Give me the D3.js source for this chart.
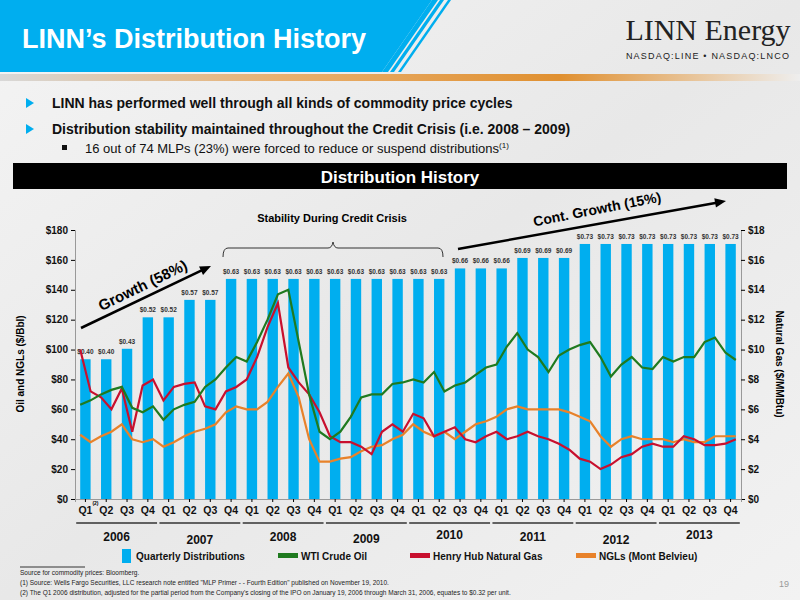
<!DOCTYPE html>
<html><head><meta charset="utf-8">
<script src="https://cdnjs.cloudflare.com/ajax/libs/d3/7.8.5/d3.min.js"></script>
<style>body{margin:0}svg{font-family:"Liberation Sans",Arial,sans-serif}</style>
</head><body>
<svg id="c" width="800" height="600"></svg>
<script>
var years = ["2006","2007","2008","2009","2010","2011","2012","2013"];
var quarters = ["Q1","Q2","Q3","Q4"];
var distributions = [0.40,0.40,0.43,0.52, 0.52,0.57,0.57,0.63, 0.63,0.63,0.63,0.63, 0.63,0.63,0.63,0.63,
  0.63,0.63,0.66,0.66, 0.66,0.69,0.69,0.69, 0.73,0.73,0.73,0.73, 0.73,0.73,0.73,0.73];
// two readings per quarter, $/Bbl
var wti = [63,66, 70,73, 75,61, 58,62, 53,60, 63,65, 75,80, 88,95, 92,105, 120,137, 140,105, 70,45,
  40,45, 55,68, 70,70, 77,78, 80,78, 85,72, 76,78, 83,88, 90,102, 111,100, 95,85, 96,100,
  103,105, 95,82, 90,95, 88,87, 95,92, 95,95, 105,108, 98,93];
// $/MMBtu x10 so it sits on the left axis
var henryHub = [100,72, 68,60, 74,45, 76,80, 66,75, 77,78, 62,60, 72,75, 80,95, 115,131, 88,78, 70,58,
  42,38, 38,35, 30,45, 50,45, 57,54, 42,45, 48,40, 38,42, 45,40, 42,45, 42,40, 37,33,
  27,25, 20,23, 28,30, 35,37, 35,35, 42,40, 36,36, 37,40];
var ngl = [43,38, 42,45, 50,40, 38,40, 35,38, 42,45, 47,50, 58,62, 60,60, 65,75, 84,68, 40,25,
  25,27, 28,32, 35,36, 40,43, 50,45, 42,45, 40,45, 50,52, 55,60, 62,60, 60,60, 60,58,
  55,52, 42,35, 40,42, 40,40, 40,38, 40,38, 38,42, 42,42];

var svg = d3.select("#c");
var defs = svg.append("defs");
var bg = defs.append("linearGradient").attr("id","bg").attr("x1",0).attr("y1",0).attr("x2",1).attr("y2",1);
bg.append("stop").attr("offset","0").attr("stop-color","#f4f4f4");
bg.append("stop").attr("offset","0.5").attr("stop-color","#e8e8e8");
bg.append("stop").attr("offset","1").attr("stop-color","#f2f2f2");
var og = defs.append("linearGradient").attr("id","og");
og.append("stop").attr("offset","0").attr("stop-color","#d8d8d8");
og.append("stop").attr("offset","0.35").attr("stop-color","#e8b070");
og.append("stop").attr("offset","0.7").attr("stop-color","#e09030");
og.append("stop").attr("offset","1").attr("stop-color","#eeeeee");
svg.append("rect").attr("width",800).attr("height",600).attr("fill","url(#bg)");

// header
svg.append("path").attr("d","M0,0H432L382,72H0Z").attr("fill","#00aeef");
[[432,438],[440,444],[448,451]].forEach(function(s){
  svg.append("path").attr("d","M"+s[0]+",0H"+s[1]+"L"+(s[1]-50)+",72H"+(s[0]-50)+"Z").attr("fill","#00aeef");
});
svg.append("rect").attr("x",0).attr("y",74).attr("width",800).attr("height",7).attr("fill","url(#og)");
svg.append("text").attr("x",22).attr("y",48).attr("fill","#fff").attr("font-size",27).attr("font-weight","bold").text("LINN’s Distribution History");
svg.append("text").attr("x",708).attr("y",40).attr("text-anchor","middle").attr("font-family","Liberation Serif,serif").attr("font-size",30).attr("fill","#222").text("LINN Energy");
svg.append("text").attr("x",708).attr("y",59).attr("text-anchor","middle").attr("font-size",9).attr("letter-spacing",1.2).attr("fill","#222").text("NASDAQ:LINE • NASDAQ:LNCO");

var bullets = [[108,"LINN has performed well through all kinds of commodity price cycles"],
  [134,"Distribution stability maintained throughout the Credit Crisis (i.e. 2008 – 2009)"]];
bullets.forEach(function(b){
  svg.append("path").attr("d","M26,"+(b[0]-10)+"l8,5l-8,5z").attr("fill","#00aeef");
  svg.append("text").attr("x",52).attr("y",b[0]).attr("font-size",14).attr("font-weight","bold").attr("fill","#111").text(b[1]);
});
svg.append("rect").attr("x",62).attr("y",145).attr("width",5).attr("height",5).attr("fill","#111");
var t3 = svg.append("text").attr("x",85).attr("y",153).attr("font-size",13).attr("fill","#111").text("16 out of 74 MLPs (23%) were forced to reduce or suspend distributions");
t3.append("tspan").attr("dy",-5).attr("font-size",8).text("(1)");
svg.append("rect").attr("x",13).attr("y",163).attr("width",774).attr("height",26).attr("fill","#000");
svg.append("text").attr("x",400).attr("y",183).attr("text-anchor","middle").attr("fill","#fff").attr("font-size",17).attr("font-weight","bold").text("Distribution History");

// chart
var x0 = 75, x1 = 741, yTop = 230, yBot = 499;
var keys = [];
years.forEach(function(y){ quarters.forEach(function(q){ keys.push(y+q); }); });
var x = d3.scaleBand().domain(keys).range([x0,x1]).paddingInner(0.5).paddingOuter(0.25);
var xt = d3.scaleLinear().domain([0,32]).range([x0,x1]);
var y = d3.scaleLinear().domain([0,180]).range([yBot,yTop]);
var yR = d3.scaleLinear().domain([0,18]).range([yBot,yTop]);
var yD = d3.scaleLinear().domain([0,0.77]).range([yBot,yTop]);

svg.append("g").selectAll("rect").data(distributions).join("rect")
  .attr("x",function(d,i){return x(keys[i]);}).attr("width",x.bandwidth())
  .attr("y",function(d){return yD(d);}).attr("height",function(d){return yBot-yD(d);})
  .attr("fill","#00aeef");
svg.append("g").selectAll("text").data(distributions).join("text")
  .attr("x",function(d,i){return x(keys[i])+x.bandwidth()/2;}).attr("y",function(d){return yD(d)-5;})
  .attr("text-anchor","middle").attr("font-size",6.5).attr("font-weight","bold").attr("fill","#333")
  .text(function(d){return "$"+d.toFixed(2);});

var line = d3.line().x(function(d,i){return xt(i*0.5+0.25);}).y(function(d){return y(d);}).curve(d3.curveLinear);
[[ngl,"#e8822a"],[henryHub,"#c8102e"],[wti,"#1f7a1f"]].forEach(function(s){
  svg.append("path").datum(s[0]).attr("d",line).attr("fill","none").attr("stroke",s[1]).attr("stroke-width",2.2);
});

var gl = svg.append("g").attr("transform","translate("+x0+",0)").call(d3.axisLeft(y).ticks(9).tickSize(4).tickFormat(function(d){return "$"+d;}));
gl.select(".domain").attr("stroke","#999");
gl.selectAll("text").attr("font-size",10).attr("font-weight","bold").attr("fill","#111");
var gr = svg.append("g").attr("transform","translate("+x1+",0)").call(d3.axisRight(yR).ticks(9).tickSize(4).tickFormat(function(d){return "$"+d;}));
gr.select(".domain").attr("stroke","#999");
gr.selectAll("text").attr("font-size",10).attr("font-weight","bold").attr("fill","#111");
var gb = svg.append("g").attr("transform","translate(0,"+yBot+")").call(d3.axisBottom(x).tickSize(3).tickFormat(function(d){return d.slice(4);}));
gb.select(".domain").attr("stroke","#999");
gb.selectAll("text").attr("font-size",10.5).attr("font-weight","bold").attr("fill","#111").attr("dy","0.9em");
svg.append("text").attr("x",x(keys[0])+x.bandwidth()/2+7).attr("y",505).attr("font-size",5).attr("font-weight","bold").text("(2)");

svg.append("text").attr("transform","translate(24,364) rotate(-90)").attr("text-anchor","middle").attr("font-size",10).attr("font-weight","bold").text("Oil and NGLs ($/Bbl)");
svg.append("text").attr("transform","translate(776,364) rotate(90)").attr("text-anchor","middle").attr("font-size",10).attr("font-weight","bold").text("Natural Gas ($/MMBtu)");

var yOff = [0,3,0,2,-2,0,3,-2];
years.forEach(function(yr,i){
  var a = x(yr+"Q1")-6, b = x(yr+"Q4")+x.bandwidth()+6;
  svg.append("line").attr("x1",a+2).attr("x2",b-2).attr("y1",523).attr("y2",523).attr("stroke","#333").attr("stroke-width",1.5);
  svg.append("text").attr("x",(a+b)/2).attr("y",541+yOff[i]).attr("text-anchor","middle").attr("font-size",12).attr("font-weight","bold").attr("fill","#111").text(yr);
});

// legend
var legend = [["Quarterly Distributions","#00aeef",122,"box"],["WTI Crude Oil","#1f7a1f",278,"line"],["Henry Hub Natural Gas","#c8102e",410,"line"],["NGLs (Mont Belvieu)","#e8822a",576,"line"]];
legend.forEach(function(l){
  if (l[3]=="box") svg.append("rect").attr("x",l[2]).attr("y",549).attr("width",9).attr("height",14).attr("fill",l[1]);
  else svg.append("rect").attr("x",l[2]).attr("y",553).attr("width",20).attr("height",5).attr("fill",l[1]);
  svg.append("text").attr("x",l[2]+(l[3]=="box"?14:23)).attr("y",560).attr("font-size",10).attr("font-weight","bold").attr("fill","#111").text(l[0]);
});

// annotations
function arrow(xa,ya,xb,yb){
  var ang = Math.atan2(yb-ya,xb-xa);
  svg.append("line").attr("x1",xa).attr("y1",ya).attr("x2",xb-8*Math.cos(ang)).attr("y2",yb-8*Math.sin(ang)).attr("stroke","#000").attr("stroke-width",2.5);
  var p1 = [xb-12*Math.cos(ang-0.4), yb-12*Math.sin(ang-0.4)], p2 = [xb-12*Math.cos(ang+0.4), yb-12*Math.sin(ang+0.4)];
  svg.append("path").attr("d","M"+xb+","+yb+"L"+p1+"L"+p2+"Z").attr("fill","#000");
}
arrow(81,328,211,266);
svg.append("text").attr("transform","translate(145,290) rotate(-26)").attr("text-anchor","middle").attr("font-size",15).attr("font-weight","bold").text("Growth (58%)");
arrow(458,249,726,201);
svg.append("text").attr("transform","translate(598,214) rotate(-11)").attr("text-anchor","middle").attr("font-size",14).attr("font-weight","bold").text("Cont. Growth (15%)");
svg.append("path").attr("d","M223,257 Q223,248 228,248 H328 Q332,248 333,242 Q334,248 338,248 H438 Q443,248 443,257").attr("fill","none").attr("stroke","#333").attr("stroke-width",1);
svg.append("text").attr("x",332).attr("y",222).attr("text-anchor","middle").attr("font-size",11).attr("font-weight","bold").text("Stability During Credit Crisis");

// footnotes
svg.append("line").attr("x1",20).attr("x2",85).attr("y1",567).attr("y2",567).attr("stroke","#333");
var notes = [[575,"Source for commodity prices: Bloomberg."],
  [585,"(1)  Source: Wells Fargo Securities, LLC research note entitled \"MLP Primer - - Fourth Edition\" published on November 19, 2010."],
  [595,"(2)  The Q1 2006 distribution, adjusted for the partial period from the Company's closing of the IPO on January 19, 2006 through March 31, 2006, equates to $0.32 per unit."]];
notes.forEach(function(n){
  svg.append("text").attr("x",20).attr("y",n[0]).attr("font-size",6.5).attr("fill","#222").text(n[1]);
});
svg.append("text").attr("x",779).attr("y",587).attr("font-size",9).attr("fill","#999").text("19");
</script>
</body></html>
